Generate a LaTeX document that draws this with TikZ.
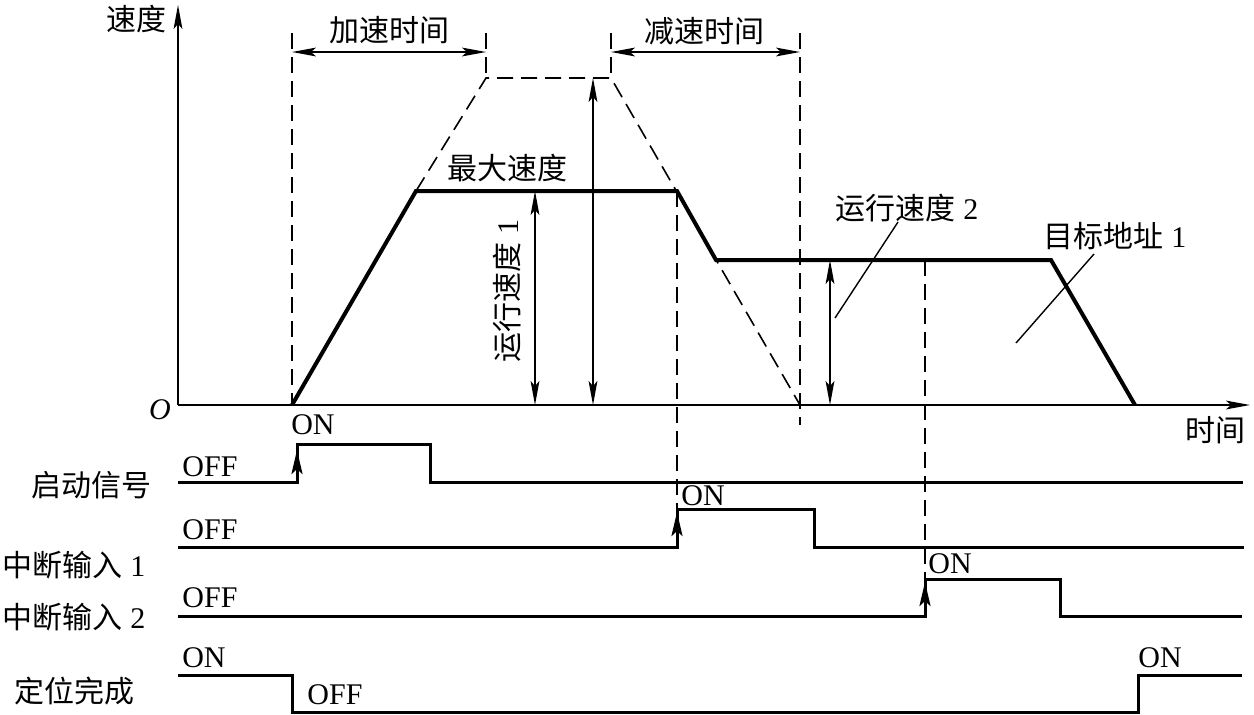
\documentclass[tikz,border=0pt]{standalone}
\usepackage{fontspec}
\setmainfont{Liberation Serif}
\newfontfamily\cjk{Noto Sans CJK SC}
\usetikzlibrary{positioning,arrows.meta}

\tikzset{
  axisline/.style={line width=0.7pt,-{Stealth[length=12pt,width=4.4pt,inset=2.5pt]}},
  profile/.style={line width=2pt,line join=miter},
  guide/.style={line width=0.8pt,dash pattern=on 8pt off 4pt},
  dimline/.style={line width=0.7pt,{Stealth[length=12pt,width=4.4pt,inset=2.5pt]}-{Stealth[length=12pt,width=4.4pt,inset=2.5pt]}},
  signal/.style={line width=1.5pt},
  riseflag/.style={line width=1.5pt,-{Stealth[length=12pt,width=5.5pt,inset=2.5pt]}},
  leader/.style={line width=0.7pt}
}

\begin{document}
\begin{tikzpicture}[x=0.5pt,y=-0.5pt,every node/.style={font=\fontsize{15}{18}\selectfont,inner sep=0pt}]
  \useasboundingbox (0,0) rectangle (1254,714);

  % axes
  \coordinate (O) at (178,405);
  \coordinate (ytop) at (178,5);
  \coordinate (xend) at (1250,405);
  \draw[axisline] (O) -- (ytop);
  \draw[axisline] (O) -- (xend);
  \node (vlabel) at (136,19) {\cjk 速度};
  \node (tlabel) at (1215,430) {\cjk 时间};
  \node (origin) at (160,410) {\textit{O}};

  % speed profile
  \coordinate (s0) at (292,405);
  \coordinate (s1) at (416,191);
  \coordinate (s2) at (677,191);
  \coordinate (s3) at (716,260);
  \coordinate (s4) at (1051,260);
  \coordinate (s5) at (1135,405);
  \coordinate (m1) at (486,78);
  \coordinate (m2) at (611,78);
  \coordinate (m3) at (800,405);
  \draw[profile] (s0) -- (s1) -- (s2) -- (s3) -- (s4) -- (s5);
  \draw[guide] (s1) -- (m1) -- (m2) -- (m3);

  % guide lines
  \coordinate (g0) at (292,33);
  \coordinate (g1) at (486,33);
  \coordinate (g2) at (611,33);
  \coordinate (g3) at (800,33);
  \coordinate (g3b) at (800,425);
  \coordinate (g4) at (677,510);
  \coordinate (s6) at (925,260);
  \coordinate (g5) at (925,580);
  \draw[guide] (g0) -- (s0);
  \draw[guide] (g1) -- (m1);
  \draw[guide] (g2) -- (m2);
  \draw[guide] (g3) -- (g3b);
  \draw[guide] (s2) -- (g4);
  \draw[guide] (s6) -- (g5);

  % time spans
  \draw[dimline] (292,52) -- (486,52);
  \draw[dimline] (611,52) -- (800,52);
  \node (acc) at (389,30) {\cjk 加速时间};
  \node (dec) at (704,31) {\cjk 减速时间};

  % speed levels
  \coordinate (v1) at (535,191);
  \coordinate (v1b) at (535,405);
  \coordinate (vm) at (593,78);
  \coordinate (vmb) at (593,405);
  \coordinate (v2) at (830,260);
  \coordinate (v2b) at (830,405);
  \draw[dimline] (v1) -- (v1b);
  \draw[dimline] (vm) -- (vmb);
  \draw[dimline] (v2) -- (v2b);
  \node (vmax) at (507,168) {\cjk 最大速度};
  \node[rotate=90] (vrun1) at (507,291) {{\cjk 运行速度} 1};
  \node (vrun2) at (907,208) {{\cjk 运行速度} 2};
  \node (target) at (1115,236) {{\cjk 目标地址} 1};
  \coordinate (l2a) at (898,222);
  \coordinate (l2b) at (835,318);
  \coordinate (l3a) at (1094,254);
  \coordinate (l3b) at (1016,343);
  \draw[leader] (l2a) -- (l2b);
  \draw[leader] (l3a) -- (l3b);

  % start signal
  \node (start) at (92,485) {\cjk 启动信号};
  \draw[signal] (178,482) -- (297,482) -- (297,444) -- (430,444) -- (430,482) -- (1243,482);
  \draw[riseflag] (297,482) -- (297,450);
  \node (startoff) at (210,467) {OFF};
  \node (starton) at (313,425) {ON};

  % interrupt input 1
  \node (int1) at (74,565) {{\cjk 中断输入} 1};
  \draw[signal] (178,547) -- (677,547) -- (677,509) -- (814,509) -- (814,547) -- (1244,547);
  \draw[riseflag] (677,547) -- (677,512);
  \node (int1off) at (210,530) {OFF};
  \node (int1on) at (703,496) {ON};

  % interrupt input 2
  \node (int2) at (74,617) {{\cjk 中断输入} 2};
  \draw[signal] (178,616) -- (925,616) -- (925,579) -- (1060,579) -- (1060,616) -- (1242,616);
  \draw[riseflag] (925,616) -- (925,582);
  \node (int2off) at (210,598) {OFF};
  \node (int2on) at (950,564) {ON};

  % positioning done
  \node (done) at (74,691) {\cjk 定位完成};
  \draw[signal] (178,675) -- (292,675) -- (292,712) -- (1138,712) -- (1138,675) -- (1242,675);
  \node (doneon) at (204,658) {ON};
  \node (doneoff) at (335,695) {OFF};
  \node (doneon2) at (1160,658) {ON};
\end{tikzpicture}
\end{document}
